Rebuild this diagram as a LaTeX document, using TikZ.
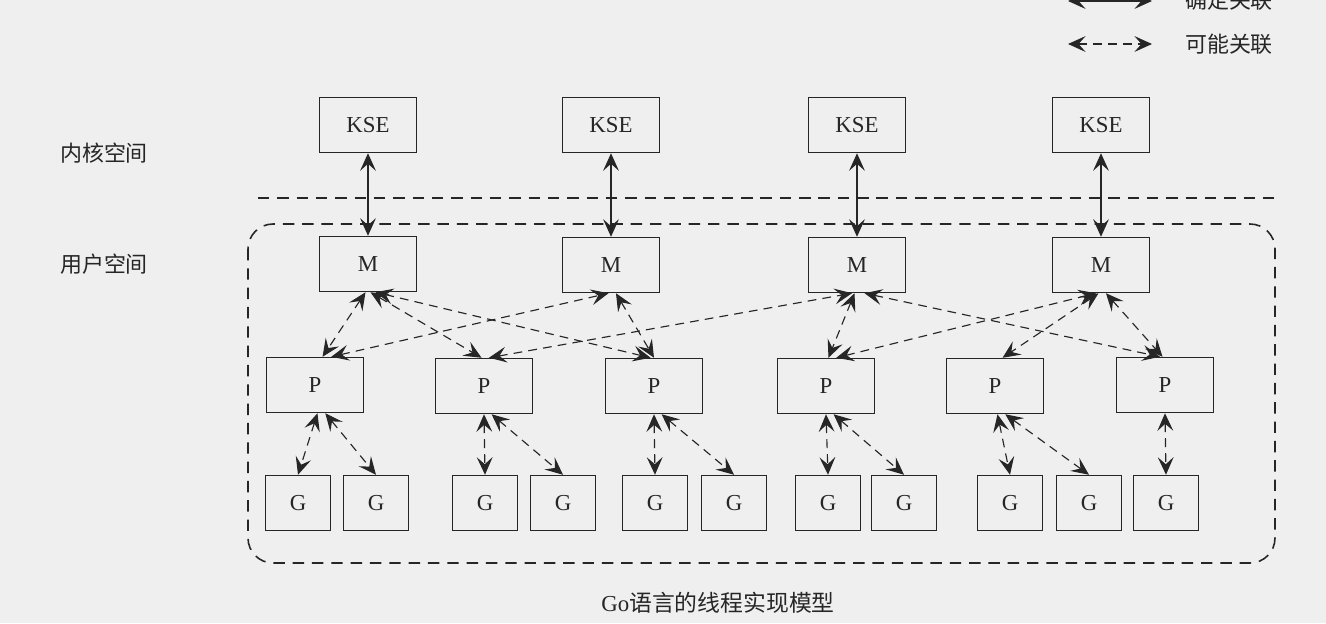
\documentclass[tikz,border=0pt]{standalone}
\usepackage{fontspec}
\setmainfont{Liberation Serif}
\newfontfamily\cjk{Noto Sans CJK SC}
\usepackage{tikz}
\usetikzlibrary{arrows.meta}
\definecolor{paper}{HTML}{EFEFEF}
\definecolor{ink}{HTML}{262626}
\tikzset{
  gm/box/.style={draw=ink, line width=0.85pt, minimum width=1.94cm, minimum height=1.1cm, inner sep=0pt, text=ink, font=\fontsize{13}{15}\selectfont},
  gm/gbox/.style={gm/box, minimum width=1.3cm},
  gm/label/.style={inner sep=0pt, text=ink, font=\cjk\fontsize{12.5}{15}\selectfont},
  gm/link/.style={draw=ink, line width=0.7pt, {Stealth[length=10pt,width=9pt,inset=4pt]}-{Stealth[length=10pt,width=9pt,inset=4pt]}},
  gm/maybe/.style={gm/link, line width=0.65pt, dash pattern=on 5pt off 3.5pt},
  gm/region/.style={draw=ink, line width=0.9pt, dash pattern=on 6.5pt off 4.5pt}
}

\begin{document}
\begin{tikzpicture}[x=0.02cm, y=-0.02cm]
  \path[use as bounding box, fill=paper] (0,0) rectangle (1326,623);

  % legend
  \coordinate (sureL) at (1068,1);
  \coordinate (sureR) at (1152,1);
  \coordinate (maybeL) at (1068,44);
  \coordinate (maybeR) at (1152,44);
  \draw[gm/link] (sureL) -- (sureR);
  \draw[gm/maybe] (maybeL) -- (maybeR);
  \node[gm/label] (sure) at (1229,0) {确定关联};
  \node[gm/label] (maybe) at (1229,44) {可能关联};

  % spaces
  \node[gm/label] (kernel) at (104,153) {内核空间};
  \node[gm/label] (user) at (104,264) {用户空间};
  \draw[gm/region] (258,198) -- (1275,198);
  \draw[gm/region, rounded corners=0.5cm] (248,224) rectangle (1275,563);

  % kernel threads and machines
  \node[gm/box] (kse1) at (368,125) {KSE};
  \node[gm/box] (kse2) at (611,125) {KSE};
  \node[gm/box] (kse3) at (857,125) {KSE};
  \node[gm/box] (kse4) at (1101,125) {KSE};
  \node[gm/box] (m1) at (368,264) {M};
  \node[gm/box] (m2) at (611,265) {M};
  \node[gm/box] (m3) at (857,265) {M};
  \node[gm/box] (m4) at (1101,265) {M};

  % processors
  \node[gm/box] (p1) at (315,385) {P};
  \node[gm/box] (p2) at (484,386) {P};
  \node[gm/box] (p3) at (654,386) {P};
  \node[gm/box] (p4) at (826,386) {P};
  \node[gm/box] (p5) at (995,386) {P};
  \node[gm/box] (p6) at (1165,385) {P};

  % goroutines
  \node[gm/gbox] (g1) at (298,503) {G};
  \node[gm/gbox] (g2) at (376,503) {G};
  \node[gm/gbox] (g3) at (485,503) {G};
  \node[gm/gbox] (g4) at (563,503) {G};
  \node[gm/gbox] (g5) at (655,503) {G};
  \node[gm/gbox] (g6) at (734,503) {G};
  \node[gm/gbox] (g7) at (828,503) {G};
  \node[gm/gbox] (g8) at (904,503) {G};
  \node[gm/gbox] (g9) at (1010,503) {G};
  \node[gm/gbox] (g10) at (1089,503) {G};
  \node[gm/gbox] (g11) at (1166,503) {G};

  \draw[gm/link] (kse1) -- (m1);
  \draw[gm/link] (kse2) -- (m2);
  \draw[gm/link] (kse3) -- (m3);
  \draw[gm/link] (kse4) -- (m4);

  \draw[gm/maybe] (m1.-95) -- (p1.75);
  \draw[gm/maybe] (m1.-85) -- (p2.95);
  \draw[gm/maybe] (m1.-75) -- (p3.97);
  \draw[gm/maybe] (p1.60) -- (m2.-95);
  \draw[gm/maybe] (m2.-80) -- (p3.90);
  \draw[gm/maybe] (p2.80) -- (m3.-100);
  \draw[gm/maybe] (m3.-95) -- (p4.85);
  \draw[gm/maybe] (m3.-75) -- (p6.100);
  \draw[gm/maybe] (p4.70) -- (m4.-100);
  \draw[gm/maybe] (m4.-95) -- (p5.75);
  \draw[gm/maybe] (m4.-80) -- (p6.95);

  \draw[gm/maybe] (p1.-85) -- (g1.north);
  \draw[gm/maybe] (p1.-70) -- (g2.north);
  \draw[gm/maybe] (p2.-90) -- (g3.north);
  \draw[gm/maybe] (p2.-75) -- (g4.north);
  \draw[gm/maybe] (p3.-90) -- (g5.north);
  \draw[gm/maybe] (p3.-75) -- (g6.north);
  \draw[gm/maybe] (p4.-90) -- (g7.north);
  \draw[gm/maybe] (p4.-75) -- (g8.north);
  \draw[gm/maybe] (p5.-85) -- (g9.north);
  \draw[gm/maybe] (p5.-70) -- (g10.north);
  \draw[gm/maybe] (p6.-90) -- (g11.north);

  \node[inner sep=0pt, text=ink, font=\fontsize{13}{15}\selectfont] (caption) at (718,603) {Go{\cjk 语言的线程实现模型}};
\end{tikzpicture}
\end{document}
